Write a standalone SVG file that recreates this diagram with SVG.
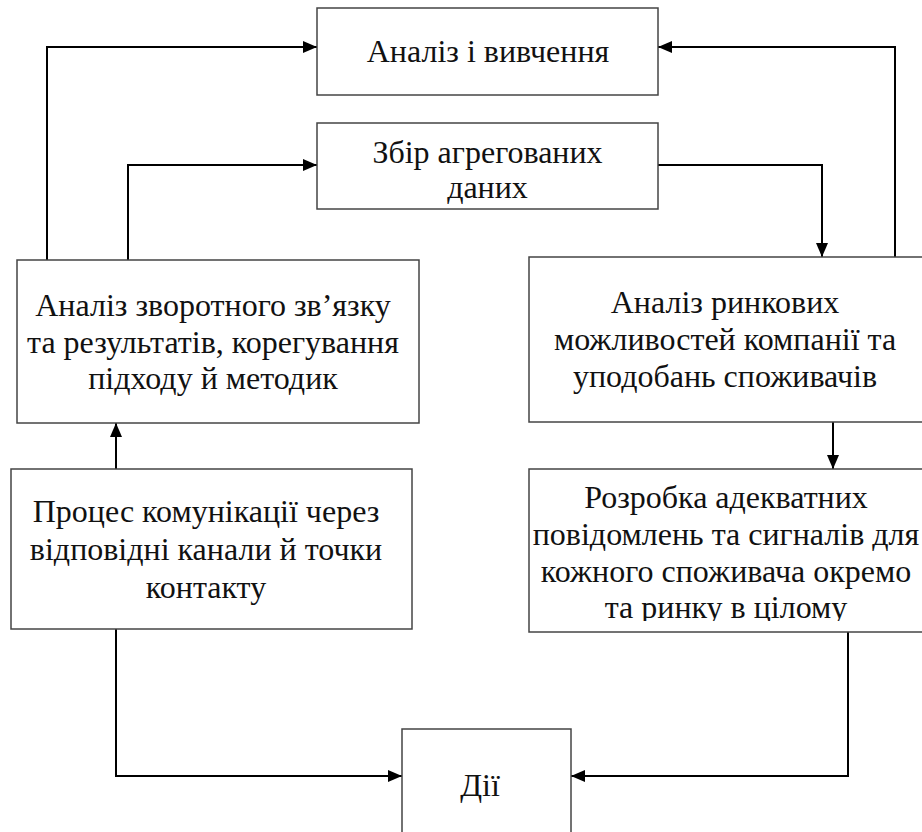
<svg xmlns="http://www.w3.org/2000/svg" width="922" height="832" viewBox="0 0 922 832">
<defs>
<style>
.box{fill:#fff;stroke:#444;stroke-width:1.5}
.t{font-size:32px;fill:#111;text-anchor:middle}
.c{fill:none;stroke:#000;stroke-width:2}
</style>
<marker id="ah" markerUnits="userSpaceOnUse" markerWidth="14" markerHeight="12" refX="14" refY="6" orient="auto">
<path d="M0,0 L14,6 L0,12 z" fill="#000"/>
</marker>
<clipPath id="clip6"><rect x="529" y="469" width="400" height="152"/></clipPath>
</defs>
<rect width="922" height="832" fill="#fff"/>
<g id="connectors">
<path class="c" d="M47,260 V47 H317" marker-end="url(#ah)"/>
<path class="c" d="M128,260 V165 H317" marker-end="url(#ah)"/>
<path class="c" d="M658,165 H822 V257" marker-end="url(#ah)"/>
<path class="c" d="M895,257 V47 H658" marker-end="url(#ah)"/>
<path class="c" d="M116,469 V423" marker-end="url(#ah)"/>
<path class="c" d="M833,422 V469" marker-end="url(#ah)"/>
<path class="c" d="M116,629 V776 H402" marker-end="url(#ah)"/>
<path class="c" d="M848,632 V776 H571" marker-end="url(#ah)"/>
</g>
<g font-family="'Liberation Serif', 'Times New Roman', serif">
<g id="node-analiz">
<rect class="box" x="317" y="8" width="341" height="87"/>
<text class="t" x="488" y="62">Аналіз і вивчення</text>
</g>
<g id="node-zbir">
<rect class="box" x="317" y="123" width="341" height="86"/>
<text class="t" x="487.5" y="163">Збір агрегованих</text>
<text class="t" x="487.5" y="198">даних</text>
</g>
<g id="node-feedback">
<rect class="box" x="17" y="260" width="402" height="163"/>
<text class="t" x="213" y="316">Аналіз зворотного зв’язку</text>
<text class="t" x="213" y="353">та результатів, корегування</text>
<text class="t" x="213" y="389">підходу й методик</text>
</g>
<g id="node-market">
<rect class="box" x="529" y="257" width="400" height="165"/>
<text class="t" x="725" y="313">Аналіз ринкових</text>
<text class="t" x="725" y="350">можливостей компанії та</text>
<text class="t" x="725" y="387">уподобань споживачів</text>
</g>
<g id="node-communication">
<rect class="box" x="11" y="469" width="401" height="160"/>
<text class="t" x="206" y="522">Процес комунікації через</text>
<text class="t" x="206" y="560">відповідні канали й точки</text>
<text class="t" x="206" y="598">контакту</text>
</g>
<g id="node-messages">
<rect class="box" x="529" y="469" width="400" height="163"/>
<g clip-path="url(#clip6)">
<text class="t" x="726" y="508">Розробка адекватних</text>
<text class="t" x="726" y="545">повідомлень та сигналів для</text>
<text class="t" x="726" y="582">кожного споживача окремо</text>
<text class="t" x="726" y="618">та ринку в цілому</text>
</g>
</g>
<g id="node-actions">
<rect class="box" x="402" y="729" width="169" height="120"/>
<text class="t" x="480" y="796">Дії</text>
</g>
</g>
</svg>
